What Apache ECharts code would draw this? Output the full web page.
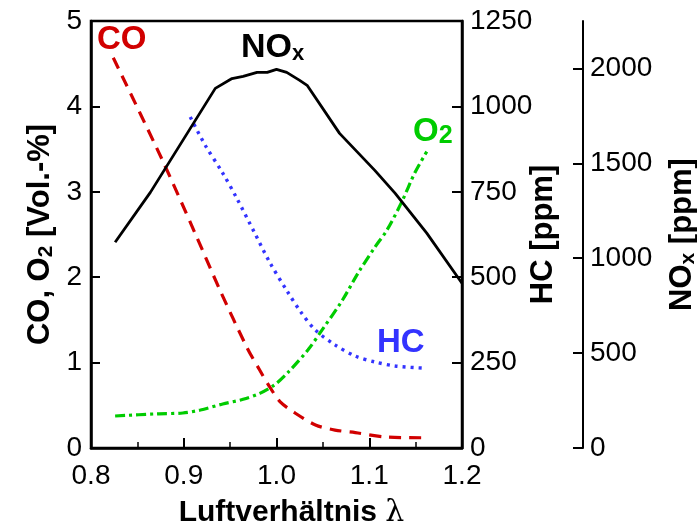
<!DOCTYPE html>
<html>
<head>
<meta charset="utf-8">
<script src="https://cdn.jsdelivr.net/npm/echarts@6/dist/echarts.min.js"></script>
<style>html,body{margin:0;padding:0;background:#fff}#c{width:697px;height:527px}</style>
</head>
<body>
<div id="c"></div>
<script>
// ---- data ----
const xTicks = [0.8, 0.9, 1.0, 1.1, 1.2];
const leftTicks = [0, 1, 2, 3, 4, 5];
const hcTicks = [0, 250, 500, 750, 1000, 1250];
const noxTicks = [0, 500, 1000, 1500, 2000];

const coLambda = [0.824, 0.877, 0.912, 0.939, 0.968, 0.982, 0.993, 1.004, 1.020, 1.042, 1.063, 1.085, 1.117, 1.157];
const coValues = [4.57, 3.37, 2.52, 1.85, 1.18, 0.91, 0.71, 0.54, 0.41, 0.27, 0.21, 0.18, 0.13, 0.12];

const o2Lambda = [0.826, 0.871, 0.899, 0.918, 0.942, 0.964, 0.982, 0.998, 1.012, 1.034, 1.049, 1.071, 1.088, 1.106, 1.119, 1.135, 1.149, 1.162];
const o2Values = [0.375, 0.40, 0.41, 0.445, 0.515, 0.57, 0.64, 0.74, 0.88, 1.15, 1.38, 1.73, 2.05, 2.35, 2.55, 2.88, 3.22, 3.47];

const hcLambda = [0.907, 0.923, 0.942, 0.957, 0.976, 0.993, 1.012, 1.027, 1.042, 1.063, 1.085, 1.106, 1.128, 1.157];
const hcValues = [969, 887, 805, 732, 632, 542, 457, 395, 345, 302, 269, 252, 240, 234];

const noxLambda = [0.826, 0.864, 0.934, 0.952, 0.964, 0.979, 0.990, 1.000, 1.011, 1.025, 1.033, 1.068, 1.106, 1.128, 1.162, 1.200];
const noxValues = [1084, 1347, 1895, 1947, 1958, 1979, 1979, 1995, 1979, 1937, 1911, 1658, 1463, 1342, 1132, 868];

const seriesNames = ['CO', 'O2', 'HC', 'NOx'];

// ---- chart ----
const FONT = '"Liberation Sans", Arial, Helvetica, sans-serif';
const pair = (xs, ys) => xs.map((x, i) => [x, ys[i]]);
const axisLine = {show: true, lineStyle: {color: '#000', width: 2.5}};
const tickLbl = {color: '#000', fontSize: 28, fontFamily: FONT};
const nameStyle = (size, extra) => Object.assign({
  color: '#000', fontSize: size, fontWeight: 'bold', fontFamily: FONT, lineHeight: 34,
  rich: {
    s: {color: '#000', fontSize: 21, fontWeight: 'bold', fontFamily: FONT, verticalAlign: 'bottom', lineHeight: 12},
    sp: {width: 30, height: 10},
    l: {color: '#000', fontSize: size, fontWeight: 'normal', fontFamily: '"DejaVu Serif", serif', lineHeight: 34}
  }
}, extra || {});

const chart = echarts.init(document.getElementById('c'), null, {renderer: 'canvas'});
chart.setOption({
  animation: false,
  backgroundColor: '#fff',
  grid: {left: 91, right: 235, top: 21, bottom: 79, containLabel: false, outerBoundsMode: 'none',
         show: true, borderColor: '#000', borderWidth: 2.5, backgroundColor: 'transparent'},
  xAxis: {
    type: 'value', min: 0.8, max: 1.2, interval: 0.1,
    name: '{sp|}Luftverhältnis {l|λ}', nameLocation: 'middle', nameGap: 48, nameMoveOverlap: false,
    nameTextStyle: nameStyle(30),
    axisLine: axisLine,
    axisTick: {show: true, inside: true, length: 10, lineStyle: {color: '#000', width: 2}},
    minorTick: {show: true, splitNumber: 2, length: 6, lineStyle: {color: '#000', width: 1.5}},
    axisLabel: Object.assign({margin: 14, formatter: v => v.toFixed(1), customValues: xTicks}, tickLbl),
    splitLine: {show: false}
  },
  yAxis: [
    {
      type: 'value', position: 'left', min: 0, max: 5, interval: 1,
      name: 'CO, O{s|2} [Vol.-%]', nameLocation: 'middle', nameGap: 34, nameMoveOverlap: false,
      nameTextStyle: nameStyle(31),
      axisLine: axisLine,
      axisTick: {show: true, inside: true, length: 9, lineStyle: {color: '#000', width: 2}},
      axisLabel: Object.assign({margin: 9, customValues: leftTicks, formatter: v => String(v)}, tickLbl),
      splitLine: {show: false}
    },
    {
      type: 'value', position: 'right', min: 0, max: 1250, interval: 250,
      name: 'HC [ppm]', nameLocation: 'middle', nameGap: 64, nameMoveOverlap: false,
      nameTextStyle: nameStyle(31),
      axisLine: axisLine,
      axisTick: {show: true, inside: true, length: 10, lineStyle: {color: '#000', width: 2}},
      axisLabel: Object.assign({margin: 8, customValues: hcTicks, formatter: v => String(v)}, tickLbl),
      splitLine: {show: false}
    },
    {
      type: 'value', position: 'right', offset: 121, min: 0, max: 2250, interval: 250,
      name: 'NO{s|x} [ppm]', nameLocation: 'middle', nameGap: 82, nameMoveOverlap: false,
      nameTextStyle: nameStyle(31),
      axisLine: {show: true, lineStyle: {color: '#000', width: 2}},
      axisTick: {show: true, inside: true, length: 10, customValues: noxTicks, lineStyle: {color: '#000', width: 2}},
      axisLabel: Object.assign({margin: 7, customValues: noxTicks,
        formatter: v => (v % 500 === 0 && v <= 2000) ? String(v) : ''}, tickLbl),
      splitLine: {show: false}
    }
  ],
  series: [
    {name: seriesNames[0], type: 'line', yAxisIndex: 0, data: pair(coLambda, coValues), smooth: 0.3,
     showSymbol: false, lineStyle: {color: '#d10000', width: 3.2, type: [12, 8], cap: 'butt'}},
    {name: seriesNames[1], type: 'line', yAxisIndex: 0, data: pair(o2Lambda, o2Values), smooth: 0.3,
     showSymbol: false, lineStyle: {color: '#00cc00', width: 3.2, type: [10, 4, 3, 4], cap: 'butt'}},
    {name: seriesNames[2], type: 'line', yAxisIndex: 1, data: pair(hcLambda, hcValues), smooth: 0.3,
     showSymbol: false, lineStyle: {color: '#3333ff', width: 3.4, type: [3, 5], cap: 'butt'}},
    {name: seriesNames[3], type: 'line', yAxisIndex: 2, data: pair(noxLambda, noxValues), smooth: false,
     showSymbol: false, lineStyle: {color: '#000', width: 2.8}}
  ],
  graphic: [
    {type: 'text', x: 97, y: 40, style: {text: 'CO', fill: '#d10000', font: 'bold 33px ' + FONT, verticalAlign: 'middle'}},
    {type: 'text', x: 241, y: 48, style: {text: '{m|NO}{s|x}', verticalAlign: 'middle',
      rich: {m: {fill: '#000', fontSize: 34, fontWeight: 'bold', fontFamily: FONT, lineHeight: 34},
             s: {fill: '#000', fontSize: 22, fontWeight: 'bold', fontFamily: FONT, verticalAlign: 'bottom', lineHeight: 12}}}},
    {type: 'text', x: 413, y: 132, style: {text: '{m|O}{s|2}', verticalAlign: 'middle',
      rich: {m: {fill: '#00cc00', fontSize: 33, fontWeight: 'bold', fontFamily: FONT, lineHeight: 34},
             s: {fill: '#00cc00', fontSize: 25, fontWeight: 'bold', fontFamily: FONT, verticalAlign: 'bottom', lineHeight: 20}}}},
    {type: 'text', x: 377, y: 343, style: {text: 'HC', fill: '#3333ff', font: 'bold 33px ' + FONT, verticalAlign: 'middle'}}
  ]
});
</script>
</body>
</html>
